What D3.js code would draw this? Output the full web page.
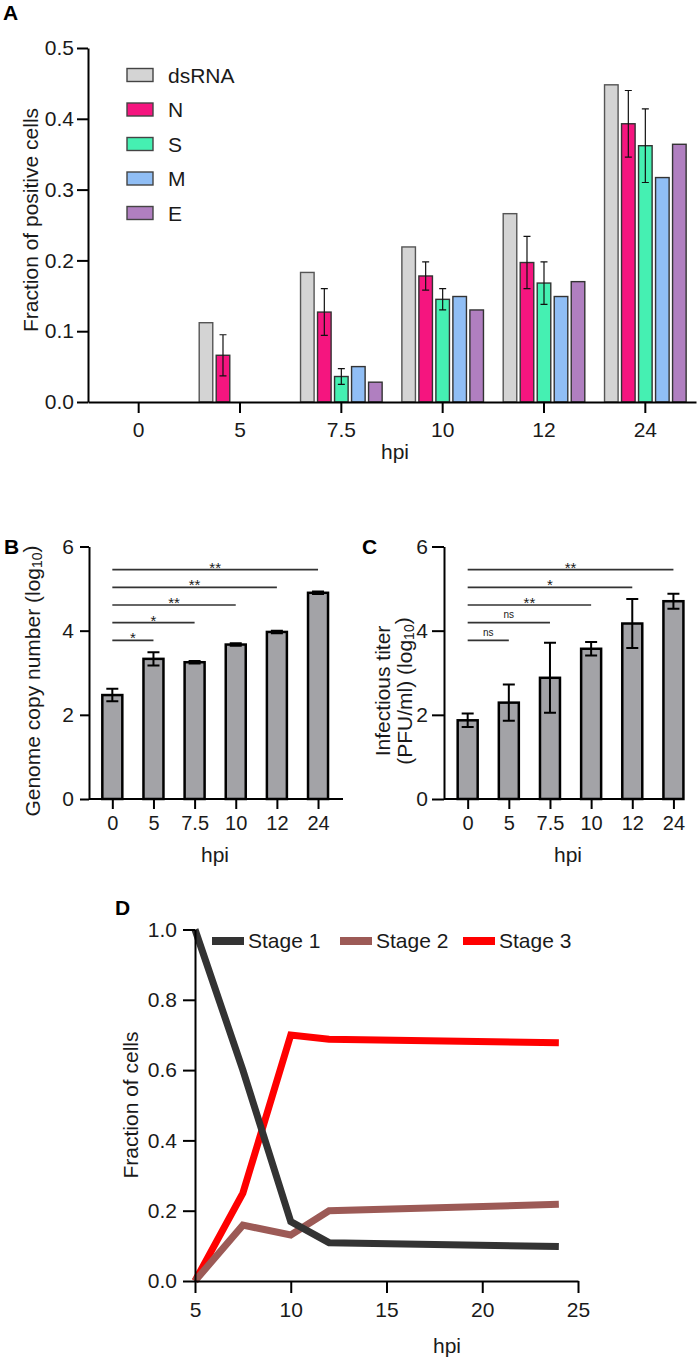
<!DOCTYPE html>
<html>
<head>
<meta charset="utf-8">
<script src="https://cdn.jsdelivr.net/npm/d3@7"></script>
<style>
  body { margin: 0; background: #fff; }
  svg { display: block; font-family: "Liberation Sans", Arial, sans-serif; }
</style>
</head>
<body>
<svg id="fig" width="700" height="1360"></svg>
<script>
// ---- data ----
const hpiCats = ["0", "5", "7.5", "10", "12", "24"];
const seriesNames = ["dsRNA", "N", "S", "M", "E"];
const seriesColors = ["#d4d4d4", "#f5157f", "#45f0b2", "#90bef5", "#b07fc0"];
const dsRNA = [0, 0.112, 0.183, 0.219, 0.266, 0.448];
const nVals = [0, 0.066, 0.127, 0.178, 0.197, 0.393];
const nErr  = [0, 0.029, 0.033, 0.020, 0.037, 0.047];
const sVals = [0, 0, 0.036, 0.145, 0.168, 0.362];
const sErr  = [0, 0, 0.011, 0.015, 0.030, 0.052];
const mVals = [0, 0, 0.050, 0.149, 0.149, 0.317];
const eVals = [0, 0, 0.028, 0.130, 0.170, 0.364];

const genomeVals = [2.47, 3.33, 3.25, 3.67, 3.97, 4.90];
const genomeErr  = [0.15, 0.16, 0.03, 0.03, 0.03, 0.03];
const titerVals  = [1.87, 2.29, 2.88, 3.57, 4.17, 4.70];
const titerErr   = [0.16, 0.43, 0.83, 0.16, 0.58, 0.18];
// significance vs 0 hpi for 5, 7.5, 10, 12, 24
const genomeSig = ["*", "*", "**", "**", "**"];
const titerSig  = ["ns", "ns", "**", "*", "**"];
const sigLevels = [3.77, 4.19, 4.61, 5.03, 5.45];

const stageHpi = [5, 7.5, 10, 12, 24];
const stageNames = ["Stage 1", "Stage 2", "Stage 3"];
const stageColors = ["#333333", "#9c5a56", "#ff0000"];
const stage1 = [1.0, 0.60, 0.169, 0.109, 0.098];
const stage2 = [0, 0.159, 0.131, 0.200, 0.218];
const stage3 = [0, 0.25, 0.70, 0.688, 0.678];

const svg = d3.select("#fig");
const ink = "#1a1a1a";

function styleAxis(g, fs) {
  g.selectAll("path.domain").attr("stroke", "#000").attr("stroke-width", 2);
  g.selectAll(".tick line").attr("stroke", "#000").attr("stroke-width", 2);
  g.selectAll(".tick text").attr("fill", ink).attr("font-size", fs)
    .attr("font-family", "Liberation Sans, Arial, sans-serif");
}

function panelLetter(txt, x, y) {
  svg.append("text").attr("x", x).attr("y", y).attr("font-size", 21)
    .attr("font-weight", "bold").attr("fill", "#000").text(txt);
}

// ---- Panel A ----
panelLetter("A", 3, 20);
const xA = d3.scaleBand().domain(hpiCats).range([88, 696]);
const subA = d3.scaleBand().domain(seriesNames).range([-41.5, 41.5]).paddingInner(0.12);
const yA = d3.scaleLinear().domain([0, 0.5]).range([402, 48]);
const seriesA = [dsRNA, nVals, sVals, mVals, eVals];
const errA = [null, nErr, sErr, null, null];

const rowsA = [];
seriesNames.forEach((name, i) => {
  hpiCats.forEach((c, j) => {
    rowsA.push({ cat: c, name, color: seriesColors[i], v: seriesA[i][j], err: errA[i] ? errA[i][j] : 0 });
  });
});
const barsA = rowsA.filter(d => d.v > 0);
const gA = svg.append("g");
gA.selectAll("rect").data(barsA).join("rect")
  .attr("x", d => xA(d.cat) + xA.bandwidth() / 2 + subA(d.name) + 0.7)
  .attr("width", subA.bandwidth() - 1.4)
  .attr("y", d => yA(d.v))
  .attr("height", d => yA(0) - yA(d.v))
  .attr("fill", d => d.color)
  .attr("stroke", d => d.name === "dsRNA" ? "#555" : "#333")
  .attr("stroke-width", 1.4);

const errRowsA = barsA.filter(d => d.err > 0);
const cxA = d => xA(d.cat) + xA.bandwidth() / 2 + subA(d.name) + subA.bandwidth() / 2;
gA.selectAll("path.err").data(errRowsA).join("path").attr("class", "err")
  .attr("d", d => {
    const x = cxA(d), t = yA(d.v + d.err), b = yA(d.v - d.err);
    return `M${x},${t}V${b}M${x - 3.5},${t}H${x + 3.5}M${x - 3.5},${b}H${x + 3.5}`;
  })
  .attr("fill", "none").attr("stroke", "#111").attr("stroke-width", 1.2);

svg.append("g").attr("transform", "translate(88,0)")
  .call(d3.axisLeft(yA).tickValues([0, 0.1, 0.2, 0.3, 0.4, 0.5]).tickFormat(d3.format(".1f"))
    .tickSize(11).tickPadding(3).tickSizeOuter(0))
  .call(g => styleAxis(g, 21));
svg.append("g").attr("transform", "translate(0,402)")
  .call(d3.axisBottom(xA).tickSize(11).tickPadding(8.6).tickSizeOuter(0))
  .call(g => styleAxis(g, 21));

svg.append("text").attr("transform", "translate(30,220) rotate(-90)")
  .attr("text-anchor", "middle").attr("dominant-baseline", "central")
  .attr("font-size", 21).attr("fill", ink).text("Fraction of positive cells");
svg.append("text").attr("x", 395).attr("y", 458.5).attr("text-anchor", "middle")
  .attr("font-size", 21).attr("fill", ink).text("hpi");

// legend A
const legA = svg.append("g");
seriesNames.forEach((name, i) => {
  const cy = 75 + i * 34.5;
  legA.append("rect").attr("x", 127).attr("y", cy - 6.5).attr("width", 26).attr("height", 13)
    .attr("fill", seriesColors[i]).attr("stroke", "#444").attr("stroke-width", 1.4);
  legA.append("text").attr("x", 168).attr("y", cy + 7.5).attr("font-size", 21)
    .attr("fill", ink).text(name);
});

// ---- Panels B and C ----
function logPanel(opts) {
  const x = d3.scalePoint().domain(hpiCats).range(opts.xr).padding(0.5);
  const y = d3.scaleLinear().domain([0, 6]).range([799, 546.5]);
  const g = svg.append("g");
  const rows = hpiCats.map((c, i) => ({ cat: c, v: opts.vals[i], err: opts.errs[i] }));
  g.selectAll("rect").data(rows).join("rect")
    .attr("x", d => x(d.cat) - 10).attr("width", 20)
    .attr("y", d => y(d.v)).attr("height", d => y(0) - y(d.v))
    .attr("fill", "#a3a3a7").attr("stroke", "#000").attr("stroke-width", 2.5);
  g.selectAll("path.err").data(rows).join("path").attr("class", "err")
    .attr("d", d => {
      const cx = x(d.cat), t = y(d.v + d.err), b = y(d.v - d.err);
      return `M${cx},${t}V${b}M${cx - 6},${t}H${cx + 6}M${cx - 6},${b}H${cx + 6}`;
    })
    .attr("fill", "none").attr("stroke", "#000").attr("stroke-width", 2);

  // significance brackets
  opts.sig.forEach((lab, i) => {
    const x0 = x(hpiCats[0]), x1 = x(hpiCats[i + 1]), ly = y(sigLevels[i]);
    g.append("line").attr("x1", x0).attr("x2", x1).attr("y1", ly).attr("y2", ly)
      .attr("stroke", "#333").attr("stroke-width", 1.7);
    const ns = lab === "ns";
    g.append("text").attr("x", (x0 + x1) / 2).attr("y", ns ? ly - 4.5 : ly + 3)
      .attr("text-anchor", "middle").attr("font-size", ns ? 10 : 15)
      .attr("fill", ink).text(lab);
  });

  svg.append("g").attr("transform", `translate(${opts.ax},0)`)
    .call(d3.axisLeft(y).tickValues([0, 2, 4, 6]).tickFormat(d3.format("d"))
      .tickSize(opts.ts).tickPadding(opts.tp).tickSizeOuter(0))
    .call(a => styleAxis(a, 21));
  const xa = svg.append("g").attr("transform", "translate(0,799)")
    .call(d3.axisBottom(x).tickSize(10).tickPadding(6.5).tickSizeOuter(0))
    .call(a => styleAxis(a, 20));
  xa.select("path.domain").attr("d", `M${opts.ax},0H${opts.xEnd}`);

  svg.append("text").attr("x", opts.hpiX).attr("y", 862).attr("text-anchor", "middle")
    .attr("font-size", 21).attr("fill", ink).text("hpi");
}

panelLetter("B", 4, 554);
logPanel({ xr: [91.75, 338.6], vals: genomeVals, errs: genomeErr, sig: genomeSig,
  ax: 89, ts: 9, tp: 6, xEnd: 343, hpiX: 215 });
panelLetter("C", 362, 554);
logPanel({ xr: [447.1, 694.0], vals: titerVals, errs: titerErr, sig: titerSig,
  ax: 444, ts: 12, tp: 4, xEnd: 684, hpiX: 568 });

function logLabel(x, y, main) {
  const t = svg.append("text").attr("transform", `translate(${x},${y}) rotate(-90)`)
    .attr("text-anchor", "middle").attr("dominant-baseline", "central")
    .attr("font-size", 21).attr("fill", ink);
  t.append("tspan").text(main + " (log");
  t.append("tspan").attr("font-size", 14).attr("dy", "0.35em").text("10");
  t.append("tspan").attr("dy", "-0.35em").text(")");
}
logLabel(32, 681, "Genome copy number");
svg.append("text").attr("transform", "translate(382,691) rotate(-90)")
  .attr("text-anchor", "middle").attr("dominant-baseline", "central")
  .attr("font-size", 21).attr("fill", ink).text("Infectious titer");
logLabel(404, 691, "(PFU/ml)");

// ---- Panel D ----
panelLetter("D", 115, 915);
const xD = d3.scaleLinear().domain([5, 25]).range([195, 578]);
const yD = d3.scaleLinear().domain([0, 1]).range([1281, 929.5]);
const stageSeries = [stage1, stage2, stage3];
const lineD = d3.line().x(d => xD(d.h)).y(d => yD(d.v));
const gD = svg.append("g");
[2, 1, 0].forEach(i => {
  gD.append("path")
    .datum(stageHpi.map((h, j) => ({ h, v: stageSeries[i][j] })))
    .attr("d", lineD).attr("fill", "none")
    .attr("stroke", stageColors[i]).attr("stroke-width", 7);
});

svg.append("g").attr("transform", "translate(195,0)")
  .call(d3.axisLeft(yD).tickValues([0, 0.2, 0.4, 0.6, 0.8, 1.0]).tickFormat(d3.format(".1f"))
    .tickSize(12).tickPadding(6).tickSizeOuter(0))
  .call(g => styleAxis(g, 21));
svg.append("g").attr("transform", "translate(0,1281)")
  .call(d3.axisBottom(xD).tickValues([5, 10, 15, 20, 25]).tickSize(12).tickPadding(9).tickSizeOuter(0))
  .call(g => styleAxis(g, 21));

svg.append("text").attr("transform", "translate(130,1105) rotate(-90)")
  .attr("text-anchor", "middle").attr("dominant-baseline", "central")
  .attr("font-size", 21).attr("fill", ink).text("Fraction of cells");
svg.append("text").attr("x", 447).attr("y", 1353).attr("text-anchor", "middle")
  .attr("font-size", 21).attr("fill", ink).text("hpi");

const legX = [212, 340, 463];
stageNames.forEach((name, i) => {
  svg.append("line").attr("x1", legX[i]).attr("x2", legX[i] + 32)
    .attr("y1", 941).attr("y2", 941)
    .attr("stroke", stageColors[i]).attr("stroke-width", 8);
  svg.append("text").attr("x", legX[i] + 36).attr("y", 948).attr("font-size", 21)
    .attr("fill", ink).text(name);
});
</script>
</body>
</html>
